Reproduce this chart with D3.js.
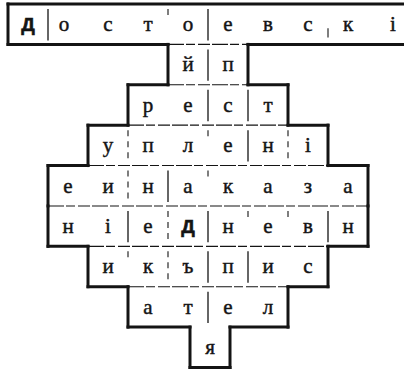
<!DOCTYPE html>
<html><head><meta charset="utf-8">
<script src="https://cdn.jsdelivr.net/npm/d3@7"></script>
<style>html,body{margin:0;padding:0;background:#fff;}svg{display:block;}</style>
</head><body>
<script>
// Letters of each row of the puzzle grid
const rowLetters = [
  ["Д","о","с","т","о","е","в","с","к","і"],
  ["й","п"],
  ["р","е","с","т"],
  ["у","п","л","е","н","і"],
  ["е","и","н","а","к","а","з","а"],
  ["н","і","е","Д","н","е","в","н"],
  ["и","к","ъ","п","и","с"],
  ["а","т","е","л"],
  ["я"]
];
// first column of each row and last column (exclusive)
const rowStart = [0, 4, 3, 2, 1, 1, 2, 3, 4.55];
const rowEnd   = [10.3, 6, 7, 8, 9, 9, 8, 7, 5.55];
// bold (capital) letters: [row, index]
const boldLetters = [[0,0],[5,3]];
// letters set off their cell centre in the print: [row, index, shift in columns]
const letterShift = [[0,1,-0.1],[0,9,0.12]];
// inner horizontal line between row r and r+1 drawn?
const innerRule = [true, true, true, true, true, true, true, false];
// vertical dividers inside rows: [row, boundary column, style]
const dividers = [
  [0,1,"solid"],[0,4,"tick"],[0,5,"solid"],[0,8,"short"],
  [1,5,"solid"],
  [2,5,"solid"],[2,6,"solid"],
  [3,3,"dash"],[3,5,"tick"],[3,6,"solid"],[3,7,"dash"],
  [4,3,"dash"],[4,4,"solid"],[4,5,"tick"],
  [5,3,"solid"],[5,4,"dash"],[5,5,"solid"],[5,6,"tick"],[5,7,"tick"],[5,8,"solid"],
  [6,3,"tick"],[6,4,"dash"],[6,5,"solid"],[6,6,"solid"],
  [7,5,"solid"]
];

const W = 404, H = 371;
const x = d3.scaleLinear().domain([0, 10]).range([8, 408]);
const y = d3.scaleLinear().domain([0, 9]).range([4, 367.5]);
const ink = "#141414";

const svg = d3.select("body").append("svg").attr("width", W).attr("height", H);
svg.append("rect").attr("width", W).attr("height", H).attr("fill", "#fff");

function segs(a0, a1, b0, b1) {
  const pts = [...new Set([a0, a1, b0, b1])].sort((p, q) => p - q);
  const out = [];
  for (let i = 0; i < pts.length - 1; i++) {
    const m = (pts[i] + pts[i + 1]) / 2;
    const inA = m > a0 && m < a1, inB = m > b0 && m < b1;
    if (inA && inB) out.push({s: pts[i], e: pts[i + 1], kind: "thin"});
    else if (inA || inB) out.push({s: pts[i], e: pts[i + 1], kind: "bold"});
  }
  return out;
}
const hLines = [];
hLines.push({r: 0, s: rowStart[0], e: rowEnd[0], kind: "bold"});
for (let r = 0; r < rowLetters.length - 1; r++) {
  segs(rowStart[r], rowEnd[r], rowStart[r + 1], rowEnd[r + 1]).forEach(sg => {
    if (sg.kind === "thin" && !innerRule[r]) return;
    hLines.push({r: r + 1, s: sg.s, e: sg.e, kind: sg.kind});
  });
}
const last = rowLetters.length - 1;
hLines.push({r: last + 1, s: rowStart[last], e: rowEnd[last], kind: "bold"});

svg.append("g").selectAll("line").data(hLines).join("line")
  .attr("x1", d => x(d.s)).attr("x2", d => x(d.e))
  .attr("y1", d => y(d.r)).attr("y2", d => y(d.r))
  .attr("stroke", ink)
  .attr("stroke-width", d => d.kind === "bold" ? 3 : 1.1)
  .attr("stroke-linecap", d => d.kind === "bold" ? "square" : "butt")
  .attr("stroke-dasharray", d => d.kind === "bold" ? null : "16,2,9,3,12,2");

const vEdges = [];
rowLetters.forEach((row, r) => {
  vEdges.push({r, c: rowStart[r]});
  if (rowEnd[r] <= 10) vEdges.push({r, c: rowEnd[r]});
});
svg.append("g").selectAll("line").data(vEdges).join("line")
  .attr("x1", d => x(d.c)).attr("x2", d => x(d.c))
  .attr("y1", d => y(d.r)).attr("y2", d => y(d.r + 1))
  .attr("stroke", ink).attr("stroke-width", 3).attr("stroke-linecap", "square");

const rowH = y(1) - y(0);
svg.append("g").selectAll("line").data(dividers).join("line")
  .attr("x1", d => x(d[1])).attr("x2", d => x(d[1]))
  .attr("y1", d => {
    const t = y(d[0]);
    if (d[2] === "short") return t + rowH * 0.6;
    return t + 5;
  })
  .attr("y2", d => {
    const t = y(d[0]);
    if (d[2] === "tick") return t + 11;
    if (d[2] === "short") return t + rowH - 7;
    return t + rowH - 4;
  })
  .attr("stroke", ink)
  .attr("stroke-width", d => d[2] === "solid" ? 1.3 : 1.1)
  .attr("stroke-dasharray", d => d[2] === "dash" ? "6,5" : null);

const cells = [];
rowLetters.forEach((row, r) => row.forEach((ch, i) => {
  const bold = boldLetters.some(b => b[0] === r && b[1] === i);
  const sh = letterShift.find(s => s[0] === r && s[1] === i);
  cells.push({r, c: rowStart[r] + i + (sh ? sh[2] : 0), ch, bold});
}));
svg.append("g").selectAll("text").data(cells).join("text")
  .attr("x", d => x(d.c + 0.5))
  .attr("y", d => y(d.r) + 27)
  .attr("text-anchor", "middle")
  .style("font-family", d => d.bold ? "'Liberation Sans', 'DejaVu Sans', sans-serif" : "'Liberation Serif', 'DejaVu Serif', serif")
  .style("font-weight", d => d.bold ? 700 : 400)
  .style("font-size", d => d.bold ? "19px" : "21px")
  .attr("fill", ink)
  .attr("stroke", ink)
  .attr("stroke-width", d => d.bold ? 0.6 : 0.45)
  .text(d => d.ch);
</script>
</body></html>
